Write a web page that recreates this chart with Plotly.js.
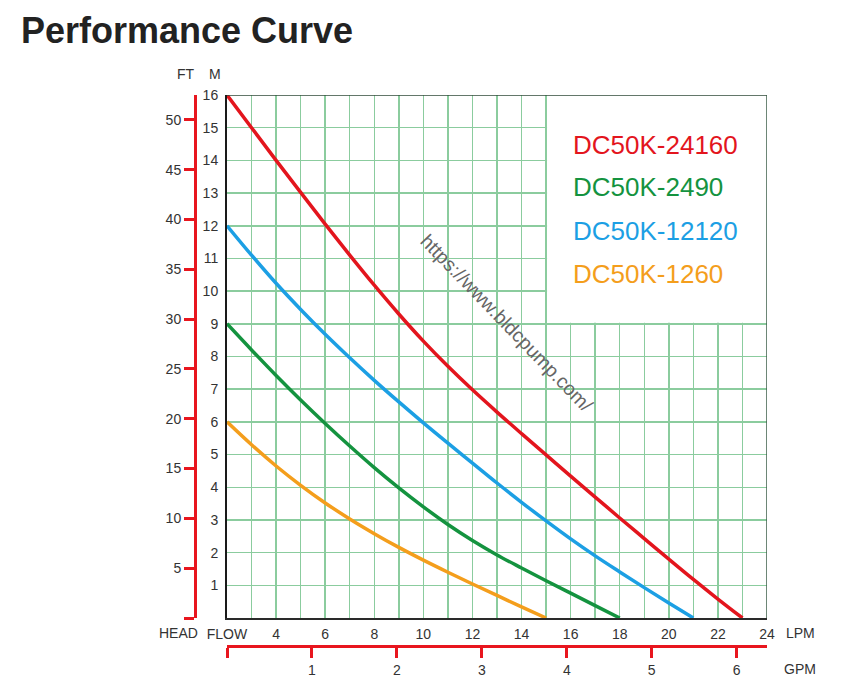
<!DOCTYPE html>
<html>
<head>
<meta charset="utf-8">
<script src="https://cdn.plot.ly/plotly-3.0.1.min.js"></script>
<style>html,body{margin:0;padding:0;background:#fff;}#chart{width:852px;height:682px;}</style>
</head>
<body>
<div id="chart"></div>
<script>
// ---- data (flow in LPM, head in metres) ----
const seriesNames = ['DC50K-24160', 'DC50K-2490', 'DC50K-12120', 'DC50K-1260'];
const seriesColors = ['#e3151d', '#14933f', '#1c9fe4', '#f49e1c'];

const flowRed = [2,3,4,5,6,7,8,9,10,11,12,13,14,15,16,17,18,19,20,21,22,23];
const headRed = [16,15.0,14.0,13.02,12.05,11.1,10.18,9.3,8.47,7.7,6.98,6.3,5.64,4.99,4.34,3.7,3.06,2.43,1.8,1.18,0.58,0];

const flowGreen = [2,3,4,5,6,7,8,9,10,11,12,13,14,15,16,17,18];
const headGreen = [9,8.2,7.42,6.67,5.95,5.26,4.6,3.98,3.4,2.86,2.37,1.93,1.53,1.14,0.76,0.38,0];

const flowBlue = [2,3,4,5,6,7,8,9,10,11,12,13,14,15,16,17,18,19,20,21];
const headBlue = [12,11.1,10.24,9.44,8.68,7.96,7.27,6.61,5.97,5.35,4.74,4.13,3.54,2.97,2.42,1.9,1.41,0.93,0.46,0];

const flowOrange = [2,3,4,5,6,7,8,9,10,11,12,13,14,15];
const headOrange = [6,5.3,4.65,4.06,3.52,3.03,2.58,2.16,1.77,1.4,1.04,0.69,0.34,0];

// axis tick labels
const lpmTicks = [2,4,6,8,10,12,14,16,18,20,22,24];
const lpmLabels = ['FLOW','4','6','8','10','12','14','16','18','20','22','24'];
const mTicks = [1,2,3,4,5,6,7,8,9,10,11,12,13,14,15,16];
const ftTicks = [0,5,10,15,20,25,30,35,40,45,50];
const ftLabels = ['','5','10','15','20','25','30','35','40','45','50'];
const gpmTicks = [0,1,2,3,4,5,6];
const gpmLabels = ['','1','2','3','4','5','6'];

const flows = [flowRed, flowGreen, flowBlue, flowOrange];
const heads = [headRed, headGreen, headBlue, headOrange];

// ---- layout geometry ----
const W = 852, H = 682;
const px = v => v / W;
const py = v => 1 - v / H;
const FONT = 'Liberation Sans, Arial, sans-serif';
const GRID = '#8bcc9e';
const AXRED = '#e8161e';
const TXT = '#333333';

const traces = flows.map((f, i) => ({
  type: 'scatter', mode: 'lines', x: f, y: heads[i], name: seriesNames[i],
  line: {color: seriesColors[i], width: 3.5, shape: 'spline', smoothing: 1},
  hoverinfo: 'x+y+name'
}));

const legendY = [14.48, 13.19, 11.85, 10.53];
const annotations = seriesNames.map((n, i) => ({
  xref: 'x', yref: 'y', x: 16.0, y: legendY[i], xanchor: 'left', yanchor: 'middle',
  text: n, showarrow: false, font: {family: FONT, size: 26, color: seriesColors[i]}
}));

const label = (t, x, y, anchor) => ({
  xref: 'paper', yref: 'paper', x: px(x), y: py(y), xanchor: anchor || 'center', yanchor: 'middle',
  text: t, showarrow: false, font: {family: FONT, size: 14, color: TXT}
});
annotations.push(label('FT', 186, 74));
annotations.push(label('M', 215, 74));
annotations.push(label('HEAD', 178, 633));
annotations.push(label('LPM', 800, 633));
annotations.push(label('GPM', 800, 669));
annotations.push({
  xref: 'paper', yref: 'paper', x: px(19), y: py(31), xanchor: 'left', yanchor: 'middle',
  text: '<b>Performance Curve</b>', showarrow: false,
  font: {family: FONT, size: 36, color: '#222222'}
});
annotations.push({
  xref: 'paper', yref: 'paper', x: px(507), y: py(323), xanchor: 'center', yanchor: 'middle',
  text: 'https://www.bldcpump.com/', showarrow: false, textangle: 46,
  font: {family: FONT, size: 19.5, color: '#666666'}
});

const xDomain = [px(227), px(767)];
const yDomain = [1 - 618 / H, 1 - 95 / H];

const layout = {
  width: W, height: H,
  margin: {l: 0, r: 0, t: 0, b: 0, pad: 0},
  paper_bgcolor: '#ffffff', plot_bgcolor: '#ffffff',
  showlegend: false,
  font: {family: FONT, size: 14, color: TXT},
  xaxis: {
    domain: xDomain, range: [2, 24], anchor: 'y',
    tickmode: 'array', tickvals: lpmTicks, ticktext: lpmLabels,
    ticks: 'outside', ticklen: 2, tickcolor: 'rgba(0,0,0,0)',
    showgrid: true, gridcolor: GRID, gridwidth: 1.5,
    minor: {tickmode: 'linear', tick0: 2, dtick: 1, showgrid: true, gridcolor: GRID, gridwidth: 1.5, ticks: ''},
    showline: true, linecolor: '#2a2a2a', linewidth: 2,
    zeroline: false, fixedrange: true,
    tickfont: {family: FONT, size: 14, color: TXT}
  },
  yaxis: {
    domain: yDomain, range: [0, 16], anchor: 'x',
    tickmode: 'array', tickvals: mTicks,
    ticks: 'outside', ticklen: 4, tickcolor: 'rgba(0,0,0,0)',
    showgrid: true, gridcolor: GRID, gridwidth: 1.5,
    showline: true, linecolor: '#1a1a1a', linewidth: 2,
    zeroline: false, fixedrange: true,
    tickfont: {family: FONT, size: 14, color: TXT}
  },
  yaxis2: {
    overlaying: 'y', anchor: 'free', position: px(195), side: 'left',
    range: [0, 16 * 3.28084],
    tickmode: 'array', tickvals: ftTicks, ticktext: ftLabels,
    ticks: 'outside', ticklen: 10, tickwidth: 3, tickcolor: AXRED,
    showline: true, linecolor: AXRED, linewidth: 3,
    showgrid: false, zeroline: false, fixedrange: true,
    tickfont: {family: FONT, size: 14, color: TXT}
  },
  xaxis2: {
    overlaying: 'x', anchor: 'free', position: 1 - 646 / H, side: 'bottom',
    range: [0, 540 / 84.95],
    tickmode: 'array', tickvals: gpmTicks, ticktext: gpmLabels,
    ticks: 'outside', ticklen: 10, tickwidth: 3, tickcolor: AXRED,
    showline: true, linecolor: AXRED, linewidth: 3,
    showgrid: false, zeroline: false, fixedrange: true,
    tickfont: {family: FONT, size: 14, color: TXT}
  },
  shapes: [
    {type: 'rect', xref: 'x', yref: 'y', x0: 15.04, x1: 24, y0: 9.03, y1: 16,
     fillcolor: '#ffffff', line: {width: 0}, layer: 'between'},
    {type: 'line', xref: 'x', yref: 'y', x0: 2, x1: 24, y0: 16, y1: 16,
     line: {color: '#2f4a38', width: 1.5}, layer: 'above'},
    {type: 'line', xref: 'x', yref: 'y', x0: 24, x1: 24, y0: 0, y1: 16,
     line: {color: '#3d5e48', width: 1.5}, layer: 'above'}
  ],
  annotations: annotations
};

// helper traces so that the secondary (FT / GPM) axes are bound to a subplot
traces.push({type: 'scatter', mode: 'markers', x: [], y: [], xaxis: 'x2', yaxis: 'y', hoverinfo: 'skip', showlegend: false});
traces.push({type: 'scatter', mode: 'markers', x: [], y: [], xaxis: 'x', yaxis: 'y2', hoverinfo: 'skip', showlegend: false});

Plotly.newPlot('chart', traces, layout, {displayModeBar: false, staticPlot: true});
</script>
</body>
</html>
